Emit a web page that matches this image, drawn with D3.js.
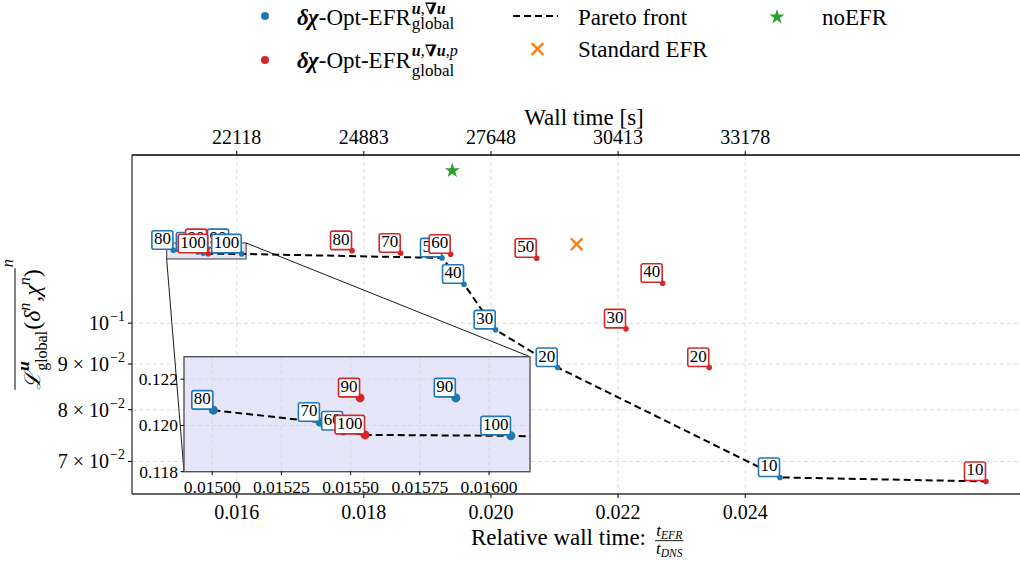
<!DOCTYPE html>
<html>
<head>
<meta charset="utf-8">
<script src="https://cdn.jsdelivr.net/npm/d3@7"></script>
<style>
  body { margin: 0; background: #fff; }
  svg { display: block; }
</style>
</head>
<body>
<svg id="chart" width="1020" height="562"></svg>
<script>
// ---- data ----
const labels = [10, 20, 30, 40, 50, 60, 70, 80, 90, 100];
const blueX = [0.024547, 0.021050, 0.020074, 0.019576, 0.019230, 0.015473, 0.015389, 0.015004, 0.015880, 0.016079];
const blueY = [0.06718, 0.08919, 0.09829, 0.11057, 0.11832, 0.11976, 0.12014, 0.12066, 0.12119, 0.11955];
const redX = [0.027787, 0.023434, 0.022124, 0.022701, 0.020719, 0.019366, 0.018580, 0.017814, 0.015534, 0.015552];
const redY = [0.06649, 0.08919, 0.09854, 0.11085, 0.11823, 0.11945, 0.11976, 0.12056, 0.12119, 0.11959];
const noEfrX = [0.019392];
const noEfrY = [0.14818];
const stdEfrX = [0.021348];
const stdEfrY = [0.12257];
// pareto front, as (series, label) pairs
const paretoSeries = ["b", "b", "b", "r", "b", "b", "b", "b", "b", "b", "r"];
const paretoLabels = [80, 70, 60, 100, 100, 50, 40, 30, 20, 10, 10];

const tDNS = 1382400;
const xTicks = [0.016, 0.018, 0.020, 0.022, 0.024];
const yTicks = [0.07, 0.08, 0.09, 0.1];
const yTickMant = ["7 × 10", "8 × 10", "9 × 10", "10"];
const yTickExp = ["−2", "−2", "−2", "−1"];
const insetXTicks = [0.015, 0.01525, 0.0155, 0.01575, 0.016];
const insetYTicks = [0.118, 0.120, 0.122];
const xDomain = [0.014353, 0.028574];
const yDomain = [0.06437, 0.15428];
const insetXDomain = [0.014898, 0.016148];
const insetYDomain = [0.118, 0.12297];

const BLUE = "#1f77b4", RED = "#d62728", ORANGE = "#ff7f0e", GREEN = "#2ca02c";
const FONT = "'Liberation Serif', 'DejaVu Serif', serif";

const svg = d3.select("#chart").attr("font-family", FONT);
const L = 132, R = 1036, T = 155, B = 494;
const x = d3.scaleLinear().domain(xDomain).range([L, R]);
const y = d3.scaleLog().domain(yDomain).range([B, T]);

// inset placement
const IL = 184, IR = 530, IT = 356.7, IB = 471.7;
const ix = d3.scaleLinear().domain(insetXDomain).range([IL, IR]);
const iy = d3.scaleLinear().domain(insetYDomain).range([IB, IT]);

function txt(g, px, py, s, size) {
    return g.append("text").attr("x", px).attr("y", py)
        .style("font-family", FONT).style("font-size", size + "px").text(s);
}

// text made of pieces (sup / sub), returns width
function rich(g, x0, y0, parts) {
    let cx = x0, mark = x0;
    parts.forEach(p => {
        if (p.mark) mark = cx + (p.dx || 0);
        const sx = p.stack ? mark : cx + (p.dx || 0);
        const t = txt(g, sx, y0 + (p.dy || 0), p.t, p.s)
            .style("font-style", p.i ? "italic" : "normal")
            .style("font-weight", p.b ? "bold" : "normal");
        const w = t.node().getComputedTextLength();
        cx = p.stack ? Math.max(cx, sx + w) : sx + w;
    });
    return cx - x0;
}

function paretoPoints(sx, sy) {
    return paretoSeries.map((s, i) => {
        const k = labels.indexOf(paretoLabels[i]);
        return s === "b" ? [sx(blueX[k]), sy(blueY[k])] : [sx(redX[k]), sy(redY[k])];
    });
}

function addDots(g, xs, ys, sx, sy, r, color) {
    g.selectAll(null).data(xs).enter().append("circle")
        .attr("cx", d => sx(d))
        .attr("cy", (d, i) => sy(ys[i]))
        .attr("r", r)
        .attr("fill", color);
}

function addLabels(g, xs, ys, sx, sy, color, keep) {
    labels.forEach((lab, i) => {
        if (keep && !keep(xs[i], ys[i])) return;
        const px = sx(xs[i]), py = sy(ys[i]);
        const lg = g.append("g");
        const t = txt(lg, px - 2.5, py - 6, lab, 17).attr("text-anchor", "end");
        const w = t.node().getComputedTextLength() + 4;
        lg.insert("rect", "text")
            .attr("x", px - w - 0.5).attr("y", py - 19.5)
            .attr("width", w).attr("height", 18.5)
            .attr("rx", 2)
            .attr("fill", "#fff")
            .attr("stroke", color)
            .attr("stroke-width", 1.6);
    });
}

const gridStyle = sel => sel.attr("stroke", "#d3d3d3").attr("stroke-width", 0.8).attr("stroke-dasharray", "4,3");

// ---- main axes ----
const gMain = svg.append("g");
gMain.selectAll(".vg").data(xTicks).enter().append("line")
    .attr("x1", d => x(d)).attr("x2", d => x(d)).attr("y1", T).attr("y2", B)
    .call(gridStyle);
gMain.selectAll(".hg").data(yTicks).enter().append("line")
    .attr("x1", L).attr("x2", R).attr("y1", d => y(d)).attr("y2", d => y(d))
    .call(gridStyle);

// zoom indicator rectangle
const rx0 = x(insetXDomain[0]), rx1 = x(insetXDomain[1]);
const ry0 = y(insetYDomain[1]), ry1 = y(insetYDomain[0]);
gMain.append("rect")
    .attr("x", rx0).attr("y", ry0).attr("width", rx1 - rx0).attr("height", ry1 - ry0)
    .attr("fill", "#e6e6fa").attr("stroke", "#555").attr("stroke-width", 1.2);

const line = d3.line();
gMain.append("path")
    .attr("d", line(paretoPoints(x, y)))
    .attr("fill", "none").attr("stroke", "#000")
    .attr("stroke-width", 2).attr("stroke-dasharray", "7,4");

addDots(gMain, blueX, blueY, x, y, 2.8, BLUE);
addDots(gMain, redX, redY, x, y, 2.8, RED);

gMain.selectAll(".star").data(noEfrX).enter().append("path")
    .attr("d", d3.symbol(d3.symbolStar, 70)())
    .attr("transform", (d, i) => `translate(${x(d)},${y(noEfrY[i])})`)
    .attr("fill", GREEN);
gMain.selectAll(".cross").data(stdEfrX).enter().append("path")
    .attr("d", d3.symbol(d3.symbolTimes, 90)())
    .attr("transform", (d, i) => `translate(${x(d)},${y(stdEfrY[i])})`)
    .attr("fill", "none").attr("stroke", ORANGE).attr("stroke-width", 2.4);

addLabels(gMain, blueX, blueY, x, y, BLUE);
addLabels(gMain, redX, redY, x, y, RED);

// connectors to the inset
gMain.append("line").attr("x1", rx0).attr("y1", ry1).attr("x2", IL).attr("y2", IB)
    .attr("stroke", "#000").attr("stroke-width", 0.9);
gMain.append("line").attr("x1", rx1).attr("y1", ry0).attr("x2", IR).attr("y2", IT)
    .attr("stroke", "#000").attr("stroke-width", 0.9);

// spines and ticks
gMain.append("line").attr("x1", L).attr("x2", L).attr("y1", T).attr("y2", B).attr("stroke", "#333").attr("stroke-width", 1.3);
gMain.append("line").attr("x1", L).attr("x2", R).attr("y1", B).attr("y2", B).attr("stroke", "#333").attr("stroke-width", 1.3);
gMain.append("line").attr("x1", L).attr("x2", R).attr("y1", T).attr("y2", T).attr("stroke", "#000").attr("stroke-width", 1.3);

xTicks.forEach(v => {
    gMain.append("line").attr("x1", x(v)).attr("x2", x(v)).attr("y1", B).attr("y2", B + 4).attr("stroke", "#000");
    txt(gMain, x(v), B + 25, d3.format(".3f")(v), 20).attr("text-anchor", "middle");
    gMain.append("line").attr("x1", x(v)).attr("x2", x(v)).attr("y1", T).attr("y2", T - 4).attr("stroke", "#000");
    txt(gMain, x(v), T - 11, Math.round(v * tDNS), 20).attr("text-anchor", "middle");
});

yTicks.forEach((v, i) => {
    gMain.append("line").attr("x1", L - 4).attr("x2", L).attr("y1", y(v)).attr("y2", y(v)).attr("stroke", "#000");
    const tg = gMain.append("g");
    const w = rich(tg, 0, 0, [
        { t: yTickMant[i], s: 20 },
        { t: yTickExp[i], s: 14, dy: -9, dx: 1 }
    ]);
    tg.attr("transform", `translate(${L - 7 - w},${y(v) + 7})`);
});

// axis titles
txt(gMain, (L + R) / 2, 125, "Wall time [s]", 23).attr("text-anchor", "middle");

const xl = gMain.append("g");
const xlw = rich(xl, 0, 0, [{ t: "Relative wall time:", s: 23 }]);
xl.attr("transform", "translate(471,545)");
const fx = 471 + xlw + 9;
const num = gMain.append("g");
const nw = rich(num, 0, 0, [{ t: "t", s: 17, i: true }, { t: "EFR", s: 11.5, i: true, dy: 3 }]);
const den = gMain.append("g");
const dw = rich(den, 0, 0, [{ t: "t", s: 17, i: true }, { t: "DNS", s: 11.5, i: true, dy: 3 }]);
const fw = Math.max(nw, dw) + 2;
num.attr("transform", `translate(${fx + (fw - nw) / 2},536)`);
den.attr("transform", `translate(${fx + (fw - dw) / 2},554)`);
gMain.append("line").attr("x1", fx).attr("x2", fx + fw).attr("y1", 540.7).attr("y2", 540.7)
    .attr("stroke", "#000").attr("stroke-width", 0.9);

// rotated y label
const ylOuter = gMain.append("g");
const yl = ylOuter.append("g");
const ylw = rich(yl, 0, 0, [
    { t: "ℒ", s: 22, i: true },
    { t: "u", s: 17, b: true, i: true, dy: -11, mark: true, dx: 1 },
    { t: "global", s: 16, dy: 7, stack: true },
    { t: "(", s: 24, dx: 1 },
    { t: "δ", s: 24, i: true },
    { t: "n", s: 16, i: true, dy: -10 },
    { t: ",", s: 24, dx: 1 },
    { t: " χ", s: 24, i: true },
    { t: "n", s: 16, i: true, dy: -10 },
    { t: ")", s: 24 }
]);
yl.append("line").attr("x1", 0).attr("x2", ylw + 1).attr("y1", -25).attr("y2", -25)
    .attr("stroke", "#000").attr("stroke-width", 1);
txt(yl, ylw + 2, -27, "n", 16).style("font-style", "italic");
ylOuter.attr("transform", `translate(40,${(T + B) / 2 + (ylw + 10) / 2}) rotate(-90)`);

// ---- inset ----
const gIn = svg.append("g");
svg.append("defs").append("clipPath").attr("id", "inclip")
    .append("rect").attr("x", IL).attr("y", IT).attr("width", IR - IL).attr("height", IB - IT);
gIn.append("rect").attr("x", IL).attr("y", IT).attr("width", IR - IL).attr("height", IB - IT)
    .attr("fill", "#e6e6fa");
gIn.selectAll(".ivg").data(insetXTicks).enter().append("line")
    .attr("x1", d => ix(d)).attr("x2", d => ix(d)).attr("y1", IT).attr("y2", IB)
    .call(gridStyle);
gIn.selectAll(".ihg").data(insetYTicks).enter().append("line")
    .attr("x1", IL).attr("x2", IR).attr("y1", d => iy(d)).attr("y2", d => iy(d))
    .call(gridStyle);

const gInC = gIn.append("g").attr("clip-path", "url(#inclip)");
gInC.append("path")
    .attr("d", line(paretoPoints(ix, iy)))
    .attr("fill", "none").attr("stroke", "#000")
    .attr("stroke-width", 2).attr("stroke-dasharray", "7,4");
addDots(gInC, blueX, blueY, ix, iy, 4.5, BLUE);
addDots(gInC, redX, redY, ix, iy, 4.5, RED);

const inside = (vx, vy) => vx >= insetXDomain[0] && vx <= insetXDomain[1] && vy >= insetYDomain[0] && vy <= insetYDomain[1];
addLabels(gIn, blueX, blueY, ix, iy, BLUE, inside);
addLabels(gIn, redX, redY, ix, iy, RED, inside);

gIn.append("rect").attr("x", IL).attr("y", IT).attr("width", IR - IL).attr("height", IB - IT)
    .attr("fill", "none").attr("stroke", "#555").attr("stroke-width", 1.4);

insetXTicks.forEach(v => {
    gIn.append("line").attr("x1", ix(v)).attr("x2", ix(v)).attr("y1", IB).attr("y2", IB + 3.5).attr("stroke", "#000");
    txt(gIn, ix(v), IB + 21, d3.format(".5f")(v), 17.5).attr("text-anchor", "middle");
});
insetYTicks.forEach(v => {
    gIn.append("line").attr("x1", IL - 3.5).attr("x2", IL).attr("y1", iy(v)).attr("y2", iy(v)).attr("stroke", "#000");
    txt(gIn, IL - 6, iy(v) + 6, d3.format(".3f")(v), 17.5).attr("text-anchor", "end");
});

// ---- legend ----
const gLeg = svg.append("g");
gLeg.append("circle").attr("cx", 265).attr("cy", 16).attr("r", 4).attr("fill", BLUE);
rich(gLeg, 297, 25, [
    { t: "δχ", s: 23, i: true, b: true },
    { t: "-Opt-EFR", s: 23 },
    { t: "u", s: 16, i: true, b: true, dy: -11, mark: true, dx: 1 },
    { t: ",", s: 16, dy: -11 },
    { t: "∇", s: 16, b: true, dy: -11 },
    { t: "u", s: 16, i: true, b: true, dy: -11 },
    { t: "global", s: 17, dy: 4, stack: true }
]);
gLeg.append("circle").attr("cx", 265).attr("cy", 60).attr("r", 4).attr("fill", RED);
rich(gLeg, 297, 68, [
    { t: "δχ", s: 23, i: true, b: true },
    { t: "-Opt-EFR", s: 23 },
    { t: "u", s: 16, i: true, b: true, dy: -12, mark: true, dx: 1 },
    { t: ",", s: 16, dy: -12 },
    { t: "∇", s: 16, b: true, dy: -12 },
    { t: "u", s: 16, i: true, b: true, dy: -12 },
    { t: ",", s: 16, dy: -12 },
    { t: "p", s: 16, i: true, dy: -12 },
    { t: "global", s: 17, dy: 8, stack: true }
]);

gLeg.append("line").attr("x1", 513).attr("x2", 558).attr("y1", 16).attr("y2", 16)
    .attr("stroke", "#000").attr("stroke-width", 2).attr("stroke-dasharray", "7,4");
txt(gLeg, 578, 25, "Pareto front", 23);

gLeg.append("path").attr("d", d3.symbol(d3.symbolTimes, 90)())
    .attr("transform", "translate(537.5,49)")
    .attr("fill", "none").attr("stroke", ORANGE).attr("stroke-width", 2.4);
txt(gLeg, 578, 57, "Standard EFR", 23);

gLeg.append("path").attr("d", d3.symbol(d3.symbolStar, 70)())
    .attr("transform", "translate(777,17)").attr("fill", GREEN);
txt(gLeg, 822, 25, "noEFR", 23);
</script>
</body>
</html>
